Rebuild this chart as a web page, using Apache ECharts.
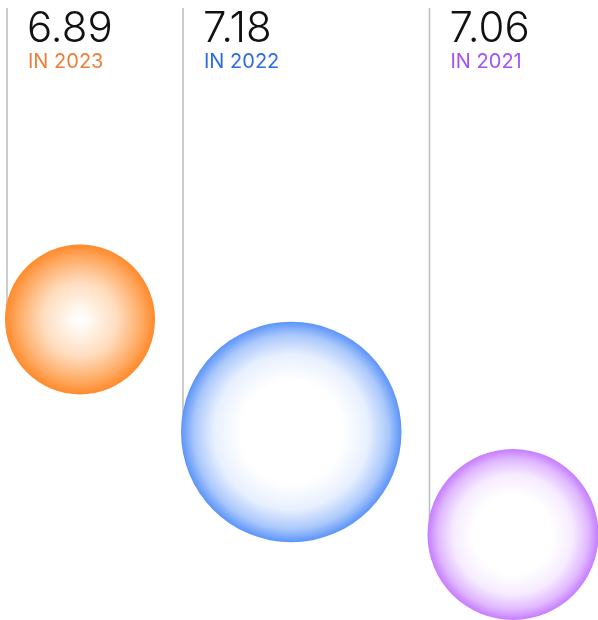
<!DOCTYPE html>
<html><head><meta charset="utf-8">
<script src="https://cdn.jsdelivr.net/npm/echarts@6/dist/echarts.min.js"></script>
<style>html,body{margin:0;padding:0;background:#fff}#c{width:598px;height:620px}</style>
</head><body><div id="c"></div>
<script>
// ---- data ----
const years = ['2023', '2022', '2021'];
const values = [6.89, 7.18, 7.06];
const weights = [1.50, 2.205, 1.71];  // bubble magnitude (diameter, axis units)
const depths = [3.195, 4.32, 5.345];  // vertical level of each bubble centre

// ---- styles ----
const edgeColors = ['#ff8a2b', '#5b94f9', '#c67cff'];
const labelColors = ['#e97f3b', '#2e6be0', '#a552f5'];
const stopsFor = [
  c => [{offset:0,color:'#ffffff'},{offset:0.1,color:'#fffbf7'},{offset:0.5,color:'#ffdcbd'},{offset:0.8,color:'#ffae6a'},{offset:1,color:c}],
  c => [{offset:0,color:'#ffffff'},{offset:0.46,color:'#ffffff'},{offset:0.7,color:'#e8f0fe'},{offset:0.88,color:'#abc8fb'},{offset:1,color:c}],
  c => [{offset:0,color:'#ffffff'},{offset:0.46,color:'#ffffff'},{offset:0.7,color:'#f6ebff'},{offset:0.88,color:'#e0b8ff'},{offset:1,color:c}]
];
const startX = 0.05, gap = 0.26, topY = 0.08;

// pack bubbles left to right
const seriesData = [];
let left = startX;
for (let i = 0; i < years.length; i++) {
  seriesData.push([left + weights[i] / 2, depths[i], weights[i]]);
  left += weights[i] + gap;
}

const chart = echarts.init(document.getElementById('c'), null, {renderer: 'canvas'});
chart.setOption({
  animation: false,
  grid: {left: 0, right: 0, top: 0, bottom: 0},
  xAxis: {type: 'value', min: 0, max: 5.98, show: false},
  yAxis: {type: 'value', min: 0, max: 6.2, inverse: true, show: false},
  series: [{
    type: 'custom',
    coordinateSystem: 'cartesian2d',
    clip: false,
    data: seriesData,
    encode: {x: 0, y: 1},
    renderItem: function (params, api) {
      const i = params.dataIndex;
      const c = api.coord([api.value(0), api.value(1)]);
      const d = api.size([api.value(2), 0])[0];
      const r = d / 2;
      const lx = c[0] - r + 2;
      const ty = api.coord([0, topY])[1];
      return {
        type: 'group',
        children: [
          {type: 'line', shape: {x1: lx, y1: ty, x2: lx, y2: c[1]}, style: {stroke: '#bdbdbd', lineWidth: 1.5}},
          {type: 'circle', shape: {cx: c[0], cy: c[1], r: r},
            style: {fill: {type: 'radial', x: 0.5, y: 0.5, r: 0.5, colorStops: stopsFor[i](edgeColors[i])}}},
          {type: 'text', style: {text: values[i].toFixed(2), x: lx + 20, y: 29, font: '300 42px Inter', fill: '#111111', verticalAlign: 'middle', align: 'left'}},
          {type: 'text', style: {text: 'IN ' + years[i], x: lx + 21, y: 62, font: '400 20px Inter', fill: labelColors[i], verticalAlign: 'middle', align: 'left'}}
        ]
      };
    }
  }]
});
</script>
</body></html>
